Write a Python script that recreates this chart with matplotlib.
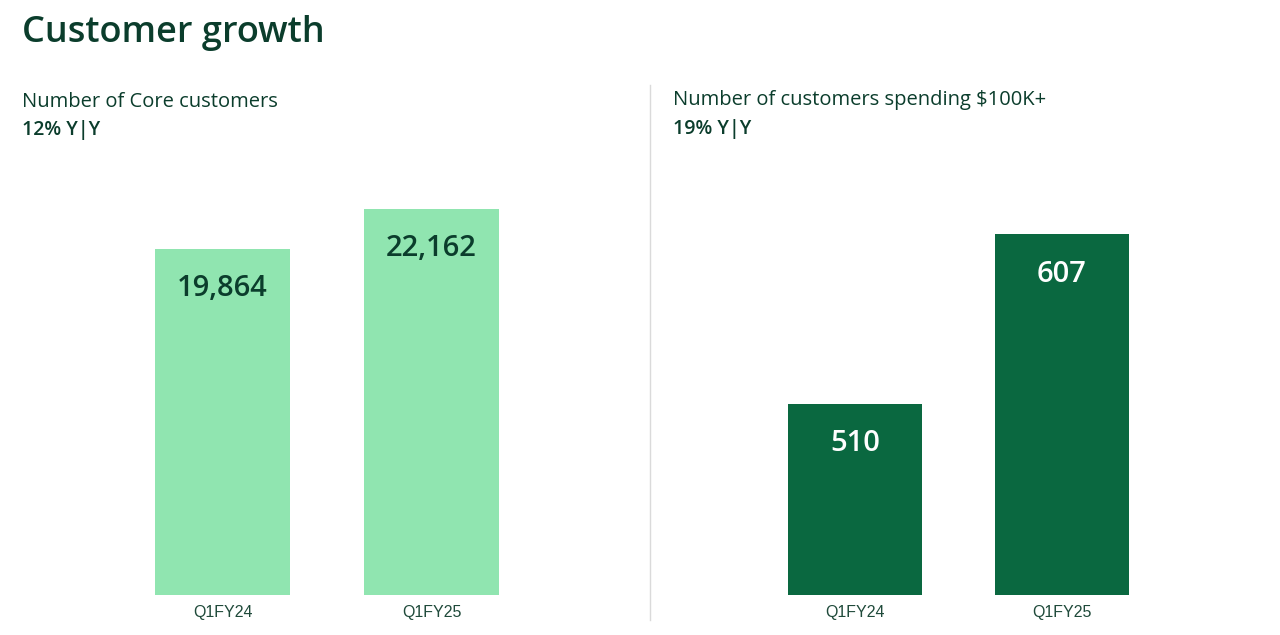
import matplotlib.pyplot as plt

DARK = "#0B3D2C"
LIGHT_BAR = "#90E5B0"
DARK_BAR = "#0A6840"
TICK = "#1F4A3A"

quarters = ["Q1FY24", "Q1FY25"]
core_customers = [19864, 22162]
big_customers = [510, 607]

plt.rcParams["font.family"] = ["Open Sans", "DejaVu Sans"]

fig = plt.figure(figsize=(12.8, 6.35), dpi=100, facecolor="white")

fig.text(0.017, 0.948, "Customer growth", fontsize=26, fontweight="semibold",
         color=DARK, va="center", ha="left")

# panel headers
fig.text(0.017, 0.84, "Number of Core customers", fontsize=14.5, color=DARK, va="center")
fig.text(0.017, 0.795, "12% Y|Y", fontsize=14, fontweight="semibold", color=DARK, va="center")
fig.text(0.526, 0.842, "Number of customers spending $100K+", fontsize=14.5, color=DARK, va="center")
fig.text(0.526, 0.797, "19% Y|Y", fontsize=14, fontweight="semibold", color=DARK, va="center")

# divider
fig.add_artist(plt.Line2D([0.508, 0.508], [0.024, 0.866], color="#DADADA", linewidth=1))


def panel(rect, values, color, label_color, ylim):
    ax = fig.add_axes(rect)
    x = range(len(values))
    bars = ax.bar(x, values, width=0.646, color=color)
    ax.set_xlim(-0.5, 1.5)
    ax.set_ylim(*ylim)
    ax.set_xticks(list(x))
    ax.set_xticklabels(quarters, fontsize=11.5, color=TICK,
                       family=["Liberation Sans", "DejaVu Sans"])
    ax.tick_params(length=0, pad=7)
    ax.set_yticks([])
    for s in ax.spines.values():
        s.set_visible(False)
    for b, v in zip(bars, values):
        ax.annotate(f"{v:,}", (b.get_x() + b.get_width() / 2, v),
                    xytext=(0, -28.5), textcoords="offset points",
                    ha="center", va="center", fontsize=21, fontweight="semibold",
                    color=label_color)
    return ax


panel([0.0922, 0.063, 0.3266, 0.6535], core_customers, LIGHT_BAR, DARK, (0, 23823))
panel([0.5871, 0.063, 0.3234, 0.6535], big_customers, DARK_BAR, "white", (400.4, 638.2))

fig.savefig("out.png", dpi=100, facecolor="white")
